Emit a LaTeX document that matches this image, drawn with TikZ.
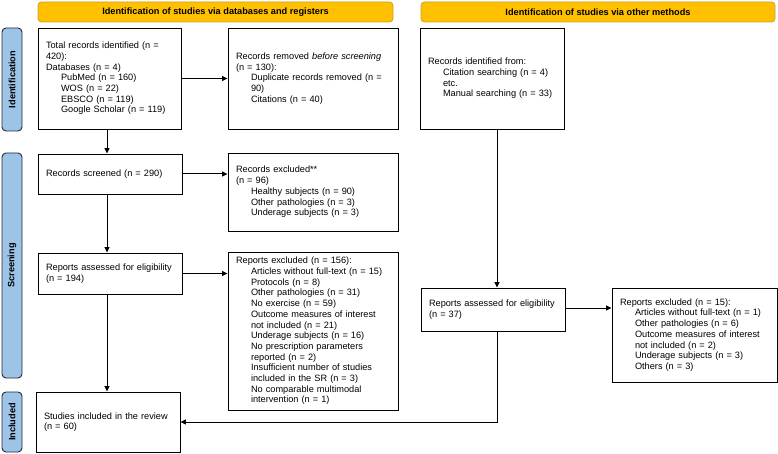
\documentclass[tikz,border=0pt]{standalone}
\usepackage{fontspec}
\setmainfont{Liberation Sans}
\usetikzlibrary{arrows.meta}
\definecolor{hdrfill}{HTML}{FFC000}
\definecolor{hdrdraw}{HTML}{C9A227}
\definecolor{sidefill}{HTML}{9DC3E6}
\definecolor{sidedraw}{HTML}{1F2A3C}
\newcommand{\ind}{\hspace*{15pt}}
\tikzset{
  box/.style={draw=black, line width=0.9pt, inner xsep=8pt, inner ysep=2pt, align=left,
     font=\fontsize{9.2}{10.7}\selectfont},
  hdr/.style={draw=hdrdraw, fill=hdrfill, line width=0.8pt, rounded corners=3.5pt,
     minimum height=20pt, font=\bfseries\fontsize{9.2}{10.7}\selectfont, inner sep=0pt},
  side/.style={draw=sidedraw, fill=sidefill, line width=0.9pt, rounded corners=4pt,
     minimum width=20pt, inner sep=0pt},
  sidetxt/.style={rotate=90, font=\bfseries\fontsize{9.2}{10.7}\selectfont, inner sep=0pt},
  arr/.style={line width=1pt, -{Triangle[length=5.5pt,width=5pt]}}
}
\begin{document}
\begin{tikzpicture}[x=1pt,y=-1pt]
\useasboundingbox (0,0) rectangle (778,454);
% headers
\node[hdr, minimum width=355pt] (h1) at (215.5,12) {Identification of studies via databases and registers};
\node[hdr, minimum width=354pt] (h2) at (598,12) {Identification of studies via other methods};
% side labels
\node[side, minimum height=103pt] (s1) at (12,79.5) {};
\node[sidetxt] (s1t) at (s1) {Identification};
\node[side, minimum height=225pt] (s2) at (12,265.5) {};
\node[sidetxt] (s2t) at (s2) {Screening};
\node[side, minimum height=60pt] (s3) at (12,422) {};
\node[sidetxt] (s3t) at (s3) {Included};
% boxes
\node[box, minimum width=143pt, text width=127pt, minimum height=101pt] (total) at (109.5,78.5)
 {Total records identified (n =\\420):\\Databases (n = 4)\\\ind PubMed (n = 160)\\\ind WOS (n = 22)\\\ind EBSCO (n = 119)\\\ind Google Scholar (n = 119)};
\node[box, minimum width=170pt, text width=154pt, minimum height=101pt] (removed) at (313,78.5)
 {Records removed \textit{before screening}\\(n = 130):\\\ind Duplicate records removed (n =\\\ind 90)\\\ind Citations (n = 40)};
\node[box, minimum width=144pt, text width=128pt, minimum height=101pt] (other) at (492,78.5)
 {Records identified from:\\\ind Citation searching (n = 4)\\\ind etc.\\\ind Manual searching (n = 33)};
\node[box, minimum width=144pt, text width=128pt, minimum height=40pt] (screened) at (110,174)
 {Records screened (n = 290)};
\node[box, minimum width=170pt, text width=154pt, minimum height=78pt] (excl96) at (313,192)
 {Records excluded**\\(n = 96)\\\ind Healthy subjects (n = 90)\\\ind Other pathologies (n = 3)\\\ind Underage subjects (n = 3)};
\node[box, minimum width=144pt, text width=128pt, minimum height=41pt] (assessL) at (110,273.5)
 {Reports assessed for eligibility\\(n = 194)};
\node[box, minimum width=170pt, text width=154pt, minimum height=158pt] (excl156) at (313,331)
 {Reports excluded (n = 156):\\\ind Articles without full-text (n = 15)\\\ind Protocols (n = 8)\\\ind Other pathologies (n = 31)\\\ind No exercise (n = 59)\\\ind Outcome measures of interest\\\ind not included (n = 21)\\\ind Underage subjects (n = 16)\\\ind No prescription parameters\\\ind reported (n = 2)\\\ind Insufficient number of studies\\\ind included in the SR (n = 3)\\\ind No comparable multimodal\\\ind intervention (n = 1)};
\node[box, minimum width=144pt, text width=128pt, minimum height=60pt] (studies) at (108,422)
 {Studies included in the review\\(n = 60)};
\node[box, minimum width=144pt, text width=128pt, minimum height=43pt] (assessR) at (493,309.5)
 {Reports assessed for eligibility\\(n = 37)};
\node[box, minimum width=165pt, text width=149pt, minimum height=94pt] (excl15) at (694.5,335)
 {Reports excluded (n = 15):\\\ind Articles without full-text (n = 1)\\\ind Other pathologies (n = 6)\\\ind Outcome measures of interest\\\ind not included (n = 2)\\\ind Underage subjects (n = 3)\\\ind Others (n = 3)};
% arrows
\draw[arr] (total.east) -- (removed.west);
\draw[arr] ([xshift=-2.5pt]total.south) -- ([xshift=-2.5pt]total.south |- screened.north);
\draw[arr] (screened.east) -- (screened.east -| excl96.west);
\draw[arr] ([xshift=-3pt]screened.south) -- ([xshift=-3pt]screened.south |- assessL.north);
\draw[arr] (assessL.east) -- (assessL.east -| excl156.west);
\draw[arr] ([xshift=-3pt]assessL.south) -- ([xshift=-3pt]assessL.south |- studies.north);
\draw[arr] ([xshift=5pt]other.south) -- ([xshift=5pt]other.south |- assessR.north);
\draw[arr] ([yshift=1.5pt]assessR.east) -- ([yshift=1.5pt]assessR.east -| excl15.west);
\draw[arr] ([xshift=4pt]assessR.south) |- (studies.east);
\end{tikzpicture}
\end{document}
